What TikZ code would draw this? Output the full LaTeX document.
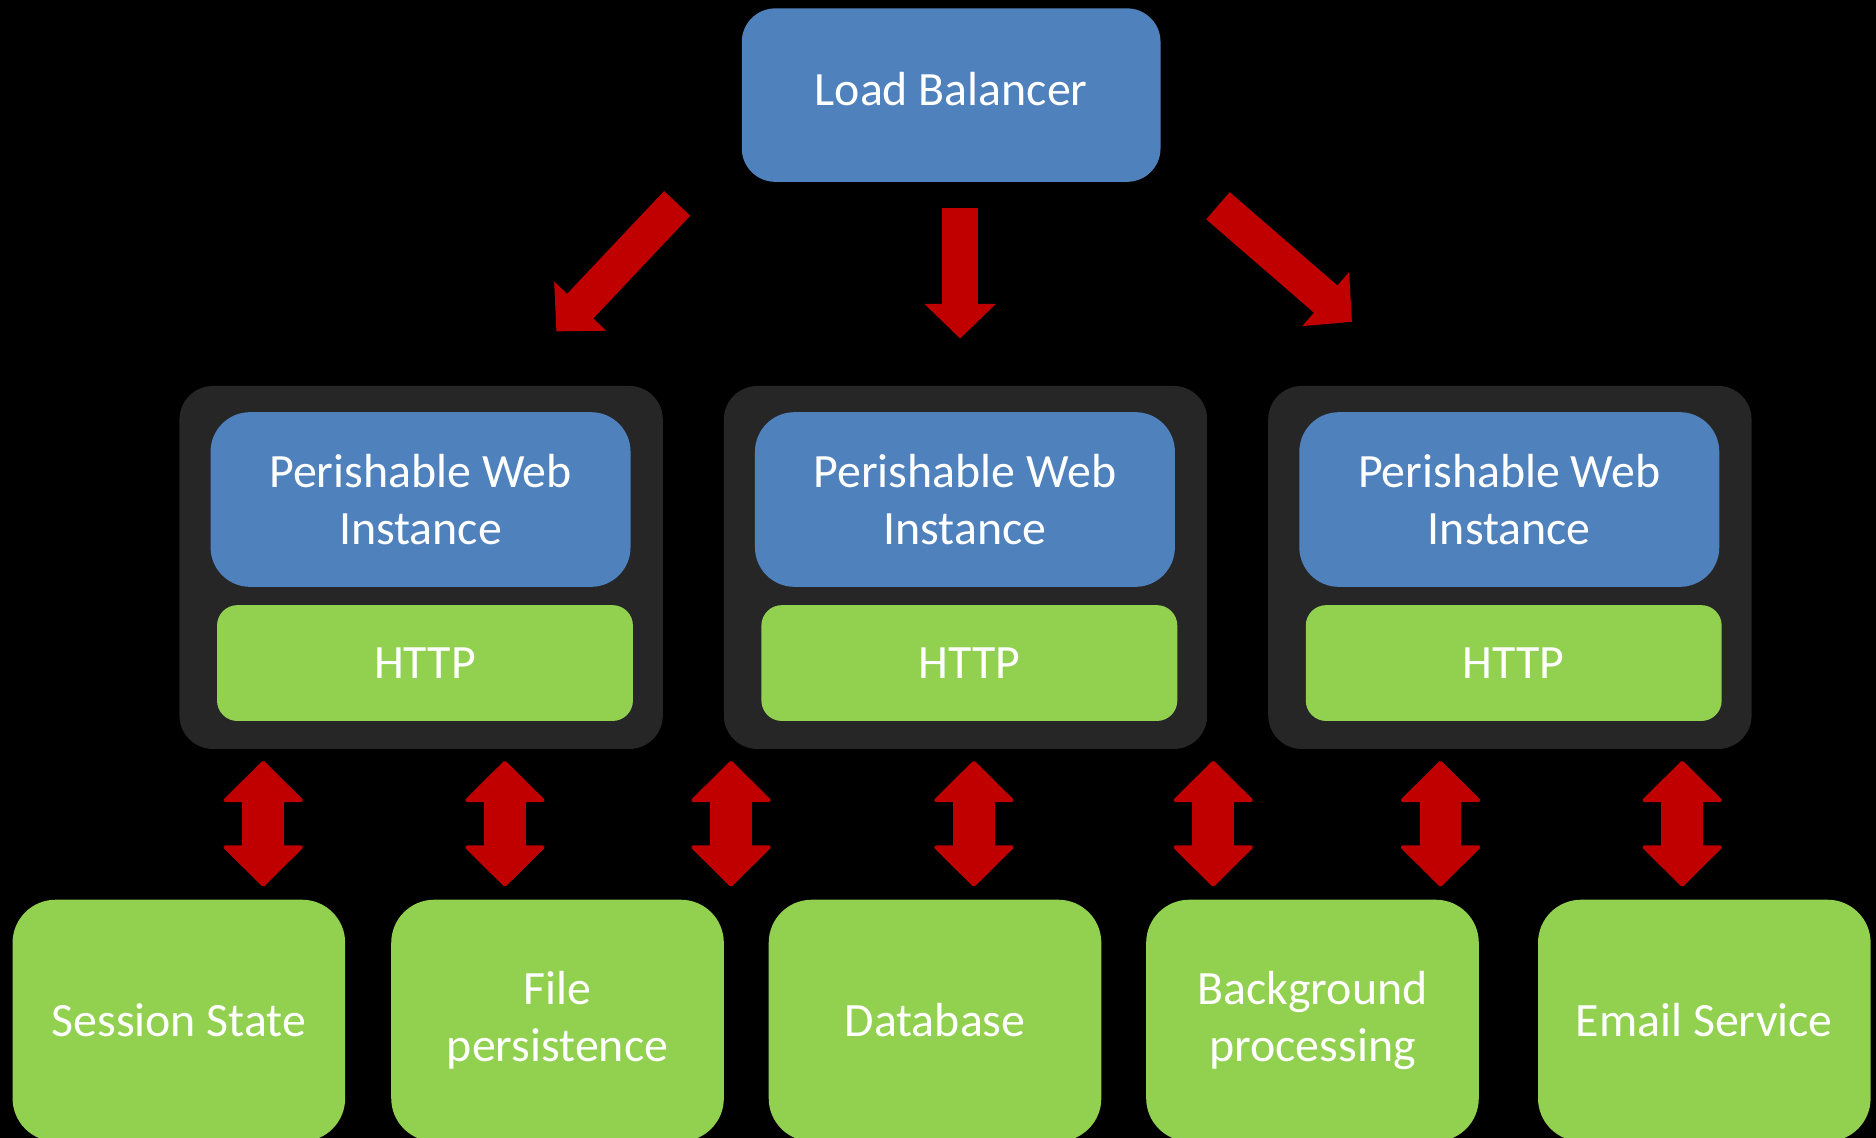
\documentclass[tikz,border=0pt]{standalone}
\usepackage{fontspec}
\setmainfont{Carlito}
\usetikzlibrary{arrows.meta}
\definecolor{tierblue}{HTML}{4F81BD}
\definecolor{tiergreen}{HTML}{92D050}
\definecolor{flowred}{HTML}{C00000}
\definecolor{panelgray}{HTML}{262626}
\begin{document}
\begin{tikzpicture}[x=0.5pt,y=-0.5pt,
  every node/.style={text=white, inner sep=0pt, align=center,
    font=\fontsize{20pt}{23.7pt}\selectfont},
  lbbox/.style={fill=tierblue, rounded corners=14pt,
    minimum width=175pt, minimum height=72.5pt, text height=10pt, text depth=1.7pt},
  panel/.style={fill=panelgray, rounded corners=14pt,
    minimum width=202pt, minimum height=151.7pt},
  webbox/.style={fill=tierblue, rounded corners=16.5pt,
    minimum width=175.5pt, minimum height=73pt},
  httpbox/.style={fill=tiergreen, rounded corners=8.5pt,
    minimum width=173.8pt, minimum height=48.4pt, text height=12.8pt, text depth=0pt},
  svcbox/.style={fill=tiergreen, rounded corners=18pt,
    minimum width=139pt, minimum height=101pt},
  flow/.style={draw=flowred, line width=15pt,
    -{Triangle[length=14.5pt, width=29pt]}},
  link/.style={draw=flowred, line width=17.5pt,
    {Triangle[length=17.5pt, width=35pt, round, line width=1.5pt]}-{Triangle[length=17.5pt, width=35pt, round, line width=1.5pt]}}
]
\useasboundingbox (0,0) rectangle (1568,951);
\fill[black] (0,0) rectangle (1568,951);
\clip (0,0) rectangle (1568,951);

% load balancer
\node[lbbox] (lb) at (795,79.5) {Load Balancer};

% web instances with their HTTP endpoints
\foreach \i/\dx in {1/0,2/455,3/910} {
  \node[panel] (panel\i) at ({352+\dx},474.3) {};
  \node[webbox] (web\i) at ({351.5+\dx},417.5) {Perishable Web\\Instance};
  \node[httpbox] (http\i) at ({355.2+\dx},554.2) {HTTP};
}

% backing services
\node[svcbox] (session) at (149.5,853) {Session State};
\node[svcbox] (files)   at (466,853)   {File\\persistence};
\node[svcbox] (db)      at (781.5,853) {Database};
\node[svcbox] (bg)      at (1097,853)  {Background\\processing};
\node[svcbox] (mail)    at (1424.5,853) {Email Service};

% traffic from the load balancer
\coordinate (f1s) at (566,170);   \coordinate (f1e) at (465,277);
\coordinate (f2s) at (802.5,174); \coordinate (f2e) at (802.5,283);
\coordinate (f3s) at (1018,172);  \coordinate (f3e) at (1130,269);
\draw[flow] (f1s) -- (f1e);
\draw[flow] (f2s) -- (f2e);
\draw[flow] (f3s) -- (f3e);

% two-way links between instances and services
\foreach \k/\x in {1/220,2/422,3/611,4/814,5/1014,6/1204,7/1406} {
  \coordinate (l\k a) at (\x,636);
  \coordinate (l\k b) at (\x,741);
  \draw[link] (l\k a) -- (l\k b);
}
\end{tikzpicture}
\end{document}
